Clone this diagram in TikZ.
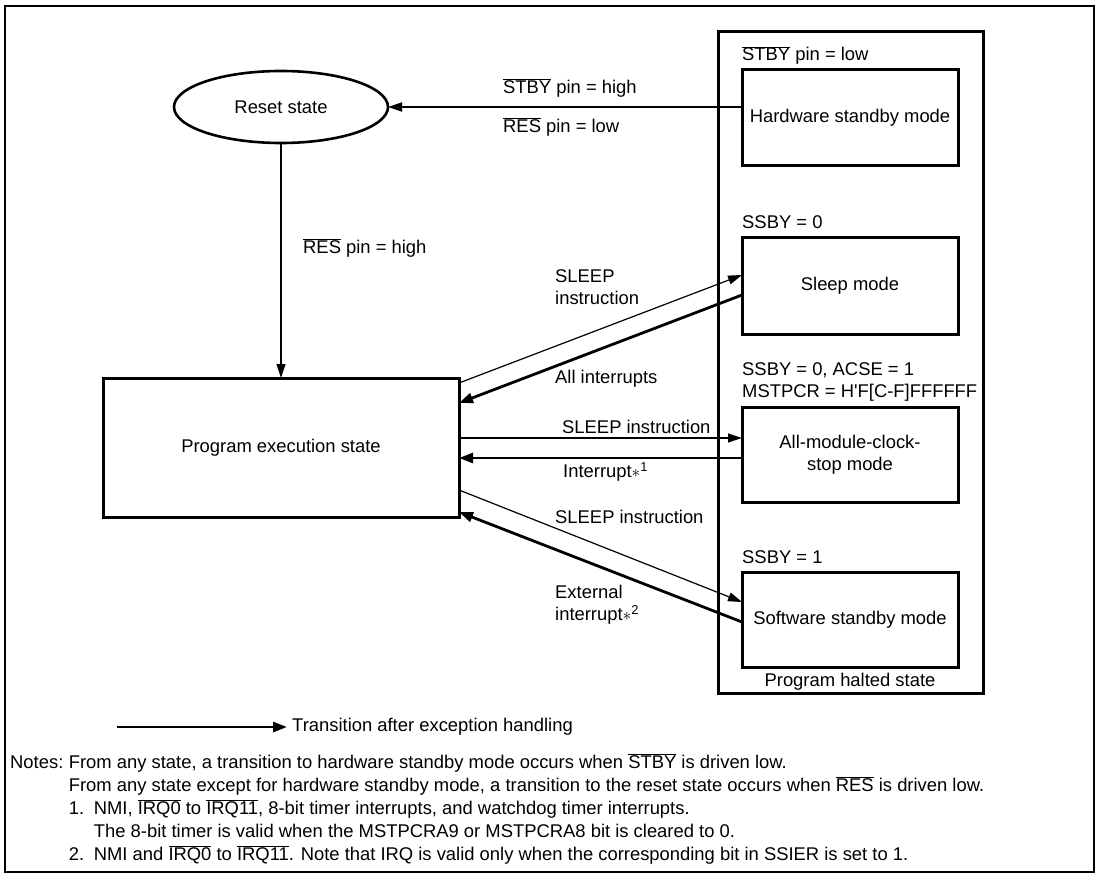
\documentclass[tikz,border=0pt]{standalone}
\usepackage{fontspec}
\setmainfont{Liberation Sans}
\usetikzlibrary{positioning,arrows.meta,shapes.geometric}
\newcommand{\ovl}[1]{$\overline{\hbox{#1}}$}

\begin{document}
\begin{tikzpicture}[x=1pt,y=-1pt,font=\fontsize{18.4}{22}\selectfont,inner sep=0pt,
  modebox/.style={draw,line width=3pt,outer sep=0pt,minimum width=216pt,minimum height=96pt,align=center},
  condlbl/.style={anchor=base west},
  fwd/.style={line width=1.2pt,-{Triangle[length=14pt,width=9pt]}},
  exc/.style={line width=2.8pt,-{Triangle[length=14pt,width=10pt]}}]
\useasboundingbox (0,0) rectangle (1100,877);
\draw[line width=2.6pt] (5,6) rectangle (1094,872);
\node[draw,ellipse,line width=2.6pt,outer sep=0pt,minimum width=214pt,minimum height=72pt] (reset) at (281,107) {Reset state};
\node[draw,line width=3pt,outer sep=0pt,minimum width=356pt,minimum height=139pt] (exec) at (281,447.5) {Program execution state};
\node[draw,line width=3pt,minimum width=265pt,minimum height=661pt] (halted) at (850.5,362.5) {};
\node[modebox] (hwstby) at (850,118) {Hardware standby mode};
\node[modebox] (sleep) at (850,286) {Sleep mode};
\node[modebox,minimum height=95pt] (allmod) at (850,454.5) {All-module-clock-\\stop mode};
\node[modebox,minimum height=95pt] (swstby) at (850,619.5) {Software standby mode};
\node[condlbl] (hwcond) at ([yshift=9pt]hwstby.north west) {\ovl{STBY} pin = low};
\node[condlbl] (slcond) at ([yshift=9.5pt]sleep.north west) {SSBY = 0};
\node[condlbl] (amcond) at ([yshift=10pt]allmod.north west) {MSTPCR = H\textquotesingle F[C-F]FFFFFF};
\node[condlbl] (amcondb) at ([yshift=22pt]amcond.base west) {SSBY = 0, ACSE = 1};
\node[condlbl] (swcond) at ([yshift=8.5pt]swstby.north west) {SSBY = 1};
\node[below=6pt of swstby] (haltlbl) {Program halted state};

\draw[line width=1.8pt,-{Triangle[length=14pt,width=9pt]}] ([yshift=11pt]hwstby.west) -- (reset.east);
\node[anchor=west] (stbyhi) at (503,88) {\ovl{STBY} pin = high};
\node[anchor=west] (reslo) at (503,127) {\ovl{RES} pin = low};
\draw[fwd] (reset.south) -- (exec.north);
\node[anchor=west] (reshi) at (303,248) {\ovl{RES} pin = high};

\draw[fwd] ([yshift=-5pt]exec.north east) -- ([yshift=11pt]sleep.west);
\draw[exc] ([yshift=-9pt]sleep.west) -- ([yshift=-25pt]exec.north east);
\node[anchor=west,align=left] (sleeplbl) at (555,287.5) {SLEEP\\instruction};
\node[anchor=west] (allint) at (555,379) {All interrupts};

\coordinate (amin) at ([yshift=9.5pt]exec.east);
\draw[fwd] (amin) -- (amin -| allmod.west);
\coordinate (amout) at ([yshift=-3.5pt]allmod.west);
\draw[exc] (amout) -- (amout -| exec.east);
\node[anchor=west] (amlbl) at (562,427) {SLEEP instruction};
\node[anchor=west] (intlbl) at (563,472) {Interrupt$\ast$\textsuperscript{1}};

\draw[fwd] ([yshift=27pt]exec.south east) -- ([yshift=17.5pt]swstby.west);
\draw[exc] ([yshift=-2.5pt]swstby.west) -- ([yshift=5pt]exec.south east);
\node[anchor=west] (swlbl) at (555,517) {SLEEP instruction};
\node[anchor=west,align=left] (extlbl) at (555,605) {External\\interrupt$\ast$\textsuperscript{2}};

\coordinate (lgstart) at (117,727);
\draw[exc] (lgstart) -- ++(170,0) coordinate (lgend);
\node[anchor=west] (lgtxt) at ([xshift=5pt]lgend) {Transition after exception handling};

\node[anchor=base west] (notes) at (10,768.6) {Notes:};
\node[anchor=base west] (note1) at ([xshift=5.1pt]notes.base east) {From any state, a transition to hardware standby mode occurs when \ovl{STBY} is driven low.};
\node[anchor=base west] (note2) at ([yshift=-23pt]note1.base west) {From any state except for hardware standby mode, a transition to the reset state occurs when \ovl{RES} is driven low.};
\node[anchor=base west] (num1) at ([yshift=-23pt]note2.base west) {1.};
\node[anchor=base west] (note3) at ([xshift=25pt]num1.base west) {NMI, \ovl{IRQ0} to \ovl{IRQ11}, 8-bit timer interrupts, and watchdog timer interrupts.};
\node[anchor=base west] (note4) at ([yshift=-23pt]note3.base west) {The 8-bit timer is valid when the MSTPCRA9 or MSTPCRA8 bit is cleared to 0.};
\node[anchor=base west] (num2) at ([yshift=-46pt]num1.base west) {2.};
\node[anchor=base west] (note5) at ([xshift=25pt]num2.base west) {NMI and \ovl{IRQ0} to \ovl{IRQ11}. Note that IRQ is valid only when the corresponding bit in SSIER is set to 1.};
\end{tikzpicture}
\end{document}
